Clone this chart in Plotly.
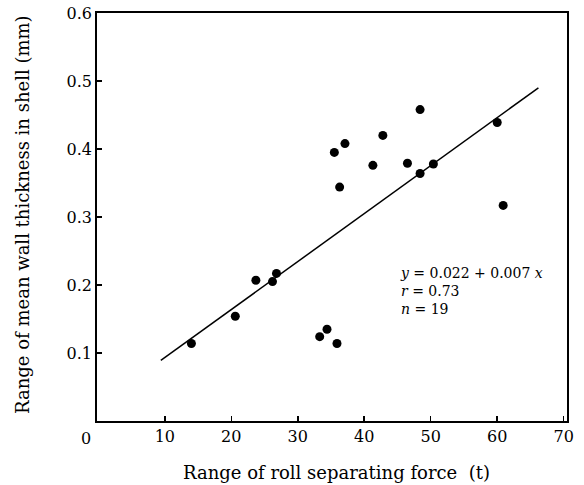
import plotly.graph_objects as go

# Data
force_t = [14.0, 20.6, 23.7, 26.2, 26.8, 33.3, 34.4, 35.9,
           48.4, 60.0, 37.1, 35.5, 42.8, 41.3, 46.5, 48.4, 50.4, 36.3, 60.9]
thickness_mm = [0.114, 0.154, 0.207, 0.205, 0.217, 0.124, 0.135, 0.114,
                0.458, 0.439, 0.408, 0.395, 0.420, 0.376, 0.379, 0.364, 0.378, 0.344, 0.317]
fit_x = [9.4, 66.2]
fit_y = [0.089, 0.490]
x_ticks = [10, 20, 30, 40, 50, 60, 70]
y_ticks = [0.1, 0.2, 0.3, 0.4, 0.5, 0.6]

FONT = "DejaVu Serif, serif"

fig = go.Figure()
fig.add_trace(go.Scatter(x=fit_x, y=fit_y, mode="lines",
                         line=dict(color="black", width=1.5), showlegend=False))
fig.add_trace(go.Scatter(x=force_t, y=thickness_mm, mode="markers",
                         marker=dict(color="black", size=9), showlegend=False))

fig.update_layout(
    width=584, height=485,
    margin=dict(l=97, r=17, t=13, b=64),
    paper_bgcolor="white", plot_bgcolor="white",
    font=dict(family=FONT, size=16, color="black"),
    xaxis=dict(range=[-0.2, 70.5], tickvals=x_ticks, ticktext=[str(v) for v in x_ticks],
               ticks="inside", ticklen=5, tickwidth=1.5, tickcolor="black",
               showline=True, linecolor="black", linewidth=1.8, mirror=True,
               showgrid=False, zeroline=False, automargin=False,
               ticklabeloverflow="allow", tickfont=dict(size=16)),
    yaxis=dict(range=[0, 0.6], tickvals=y_ticks, ticktext=[f"{v:.1f}" for v in y_ticks],
               ticks="inside", ticklen=5, tickwidth=1.5, tickcolor="black",
               showline=True, linecolor="black", linewidth=1.8, mirror=True,
               showgrid=False, zeroline=False, automargin=False,
               ticklabeloverflow="allow", tickfont=dict(size=16)),
)

# "0" at the axis corner
fig.add_annotation(text="0", xref="paper", yref="paper", x=-0.024, y=-0.015,
                   xanchor="center", yanchor="top", showarrow=False,
                   font=dict(size=16))

# axis titles
fig.add_annotation(text="Range of roll separating force  (t)", xref="paper", yref="paper",
                   x=0.509, y=-0.125, xanchor="center", yanchor="middle",
                   showarrow=False, font=dict(size=18))
fig.add_annotation(text="Range of mean wall thickness in shell (mm)", xref="paper", yref="paper",
                   x=-0.16, y=0.507, xanchor="center", yanchor="middle", textangle=-90,
                   showarrow=False, font=dict(size=18))

fig.add_annotation(text="<i>y</i> = 0.022 + 0.007 <i>x</i><br><i>r</i> = 0.73<br><i>n</i> = 19",
                   x=45.1, y=0.233, xref="x", yref="y", xanchor="left", yanchor="top",
                   align="left", showarrow=False, font=dict(size=14))

# remove the page's default body margin so the figure fills the window exactly
fig.write_html("out.html",
               config={"displayModeBar": False, "staticPlot": True},
               post_script="document.body.style.margin='0';document.body.style.overflow='hidden';")
